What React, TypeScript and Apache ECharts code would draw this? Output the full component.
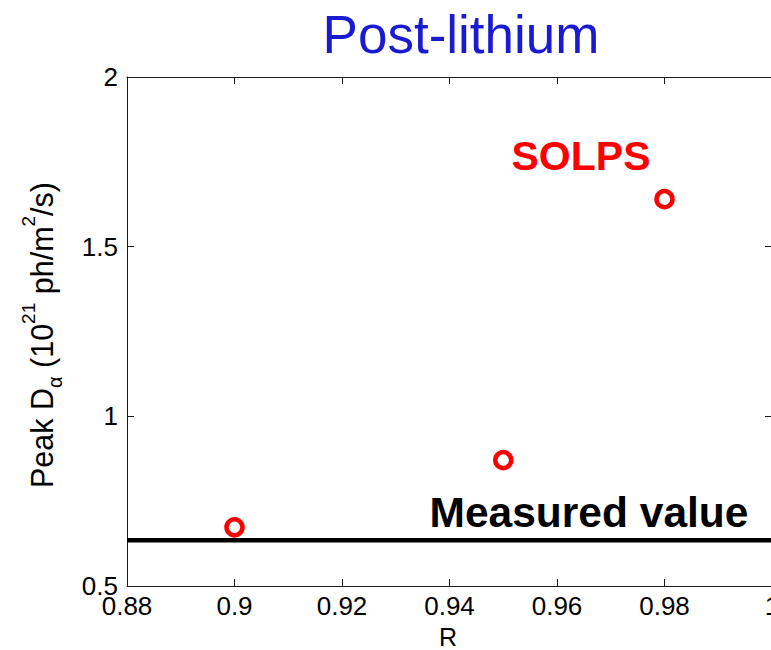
import React, { useEffect, useRef } from "react";
import * as echarts from "echarts";

// Reflectivity values and the simulated peak D-alpha emission at each
const rValues = [0.9, 0.95, 0.98];
const solpsPeak = [0.673, 0.871, 1.64];
// Experimentally measured peak emission (horizontal reference line)
const measuredPeak = 0.635;

const xTicks = { min: 0.88, max: 1.0, interval: 0.02 };
const yTicks = { min: 0.5, max: 2, interval: 0.5 };

const FONT = "'Liberation Sans', Arial, Helvetica, sans-serif";

export default function App() {
  const ref = useRef<HTMLDivElement>(null);

  useEffect(() => {
    if (!ref.current) return;
    const chart = echarts.init(ref.current, undefined, { renderer: "svg" });

    const axisLine = { show: true, lineStyle: { color: "#1a1a1a", width: 1 } };
    const axisTick = { show: true, inside: true, length: 7, lineStyle: { color: "#1a1a1a", width: 1 } };

    const fmt = (v: number) => String(Number(v.toFixed(2)));

    chart.setOption({
      animation: false,
      backgroundColor: "#ffffff",
      grid: {
        left: 127,
        top: 77,
        width: 645,
        height: 509,
        containLabel: false,
        outerBoundsMode: "none",
      },
      xAxis: [
        {
          type: "value",
          min: xTicks.min,
          max: xTicks.max,
          interval: xTicks.interval,
          position: "bottom",
          axisLine,
          axisTick,
          splitLine: { show: false },
          axisLabel: {
            show: true,
            margin: 7,
            fontSize: 26,
            color: "#000",
            fontFamily: FONT,
            formatter: fmt,
          },
        },
        {
          type: "value",
          min: xTicks.min,
          max: xTicks.max,
          interval: xTicks.interval,
          position: "top",
          axisLine,
          axisTick,
          splitLine: { show: false },
          axisLabel: { show: false },
        },
      ],
      yAxis: [
        {
          type: "value",
          min: yTicks.min,
          max: yTicks.max,
          interval: yTicks.interval,
          position: "left",
          axisLine,
          axisTick,
          splitLine: { show: false },
          axisLabel: {
            show: true,
            margin: 9,
            fontSize: 26,
            color: "#000",
            fontFamily: FONT,
            formatter: fmt,
          },
        },
        {
          type: "value",
          min: yTicks.min,
          max: yTicks.max,
          interval: yTicks.interval,
          position: "right",
          axisLine,
          axisTick,
          splitLine: { show: false },
          axisLabel: { show: false },
        },
      ],
      series: [
        {
          type: "line",
          name: "Measured value",
          xAxisIndex: 0,
          yAxisIndex: 0,
          data: [
            [xTicks.min, measuredPeak],
            [xTicks.max, measuredPeak],
          ],
          showSymbol: false,
          symbol: "none",
          lineStyle: { color: "#000", width: 4.5 },
          z: 2,
        },
        {
          type: "scatter",
          name: "SOLPS",
          xAxisIndex: 0,
          yAxisIndex: 0,
          data: rValues.map((r, i) => [r, solpsPeak[i]]),
          symbol: "circle",
          symbolSize: 16,
          itemStyle: { color: "#ffffff", borderColor: "#ff0000", borderWidth: 4.5, opacity: 1 },
          z: 3,
        },
      ],
      graphic: [
        {
          type: "text",
          x: 461,
          y: 34,
          style: {
            text: "Post-lithium",
            fill: "#1a1ad2",
            font: `53px ${FONT}`,
            align: "center",
            verticalAlign: "middle",
          },
        },
        {
          type: "text",
          x: 581,
          y: 156,
          style: {
            text: "SOLPS",
            fill: "#ff0000",
            font: `bold 41px ${FONT}`,
            align: "center",
            verticalAlign: "middle",
          },
          z: 10,
        },
        {
          type: "text",
          x: 589,
          y: 512,
          style: {
            text: "Measured value",
            fill: "#000",
            font: `bold 42.5px ${FONT}`,
            align: "center",
            verticalAlign: "middle",
          },
          z: 10,
        },
        {
          type: "text",
          x: 448,
          y: 637,
          style: {
            text: "R",
            fill: "#000",
            font: `25px ${FONT}`,
            lineHeight: 22,
            align: "center",
            verticalAlign: "middle",
          },
        },
        {
          type: "text",
          x: 42,
          y: 335,
          rotation: Math.PI / 2,
          style: {
            text: "{m|Peak D}{sub|α}{m| (10}{sup|21}{m| ph/m}{sup|2}{m|/s)}",
            align: "center",
            verticalAlign: "middle",
            fill: "#000",
            rich: {
              m: { fontSize: 30.5, fontFamily: FONT, lineHeight: 46, verticalAlign: "middle", fill: "#000" },
              sup: { fontSize: 19, fontFamily: FONT, lineHeight: 19, verticalAlign: "top", fill: "#000" },
              sub: { fontSize: 20, fontFamily: FONT, lineHeight: 28, verticalAlign: "bottom", fill: "#000" },
            },
          },
        },
      ],
    });

    return () => chart.dispose();
  }, []);

  return (
    <div
      ref={ref}
      style={{ position: "absolute", left: 0, top: 0, width: 771, height: 650, background: "#fff" }}
    />
  );
}
